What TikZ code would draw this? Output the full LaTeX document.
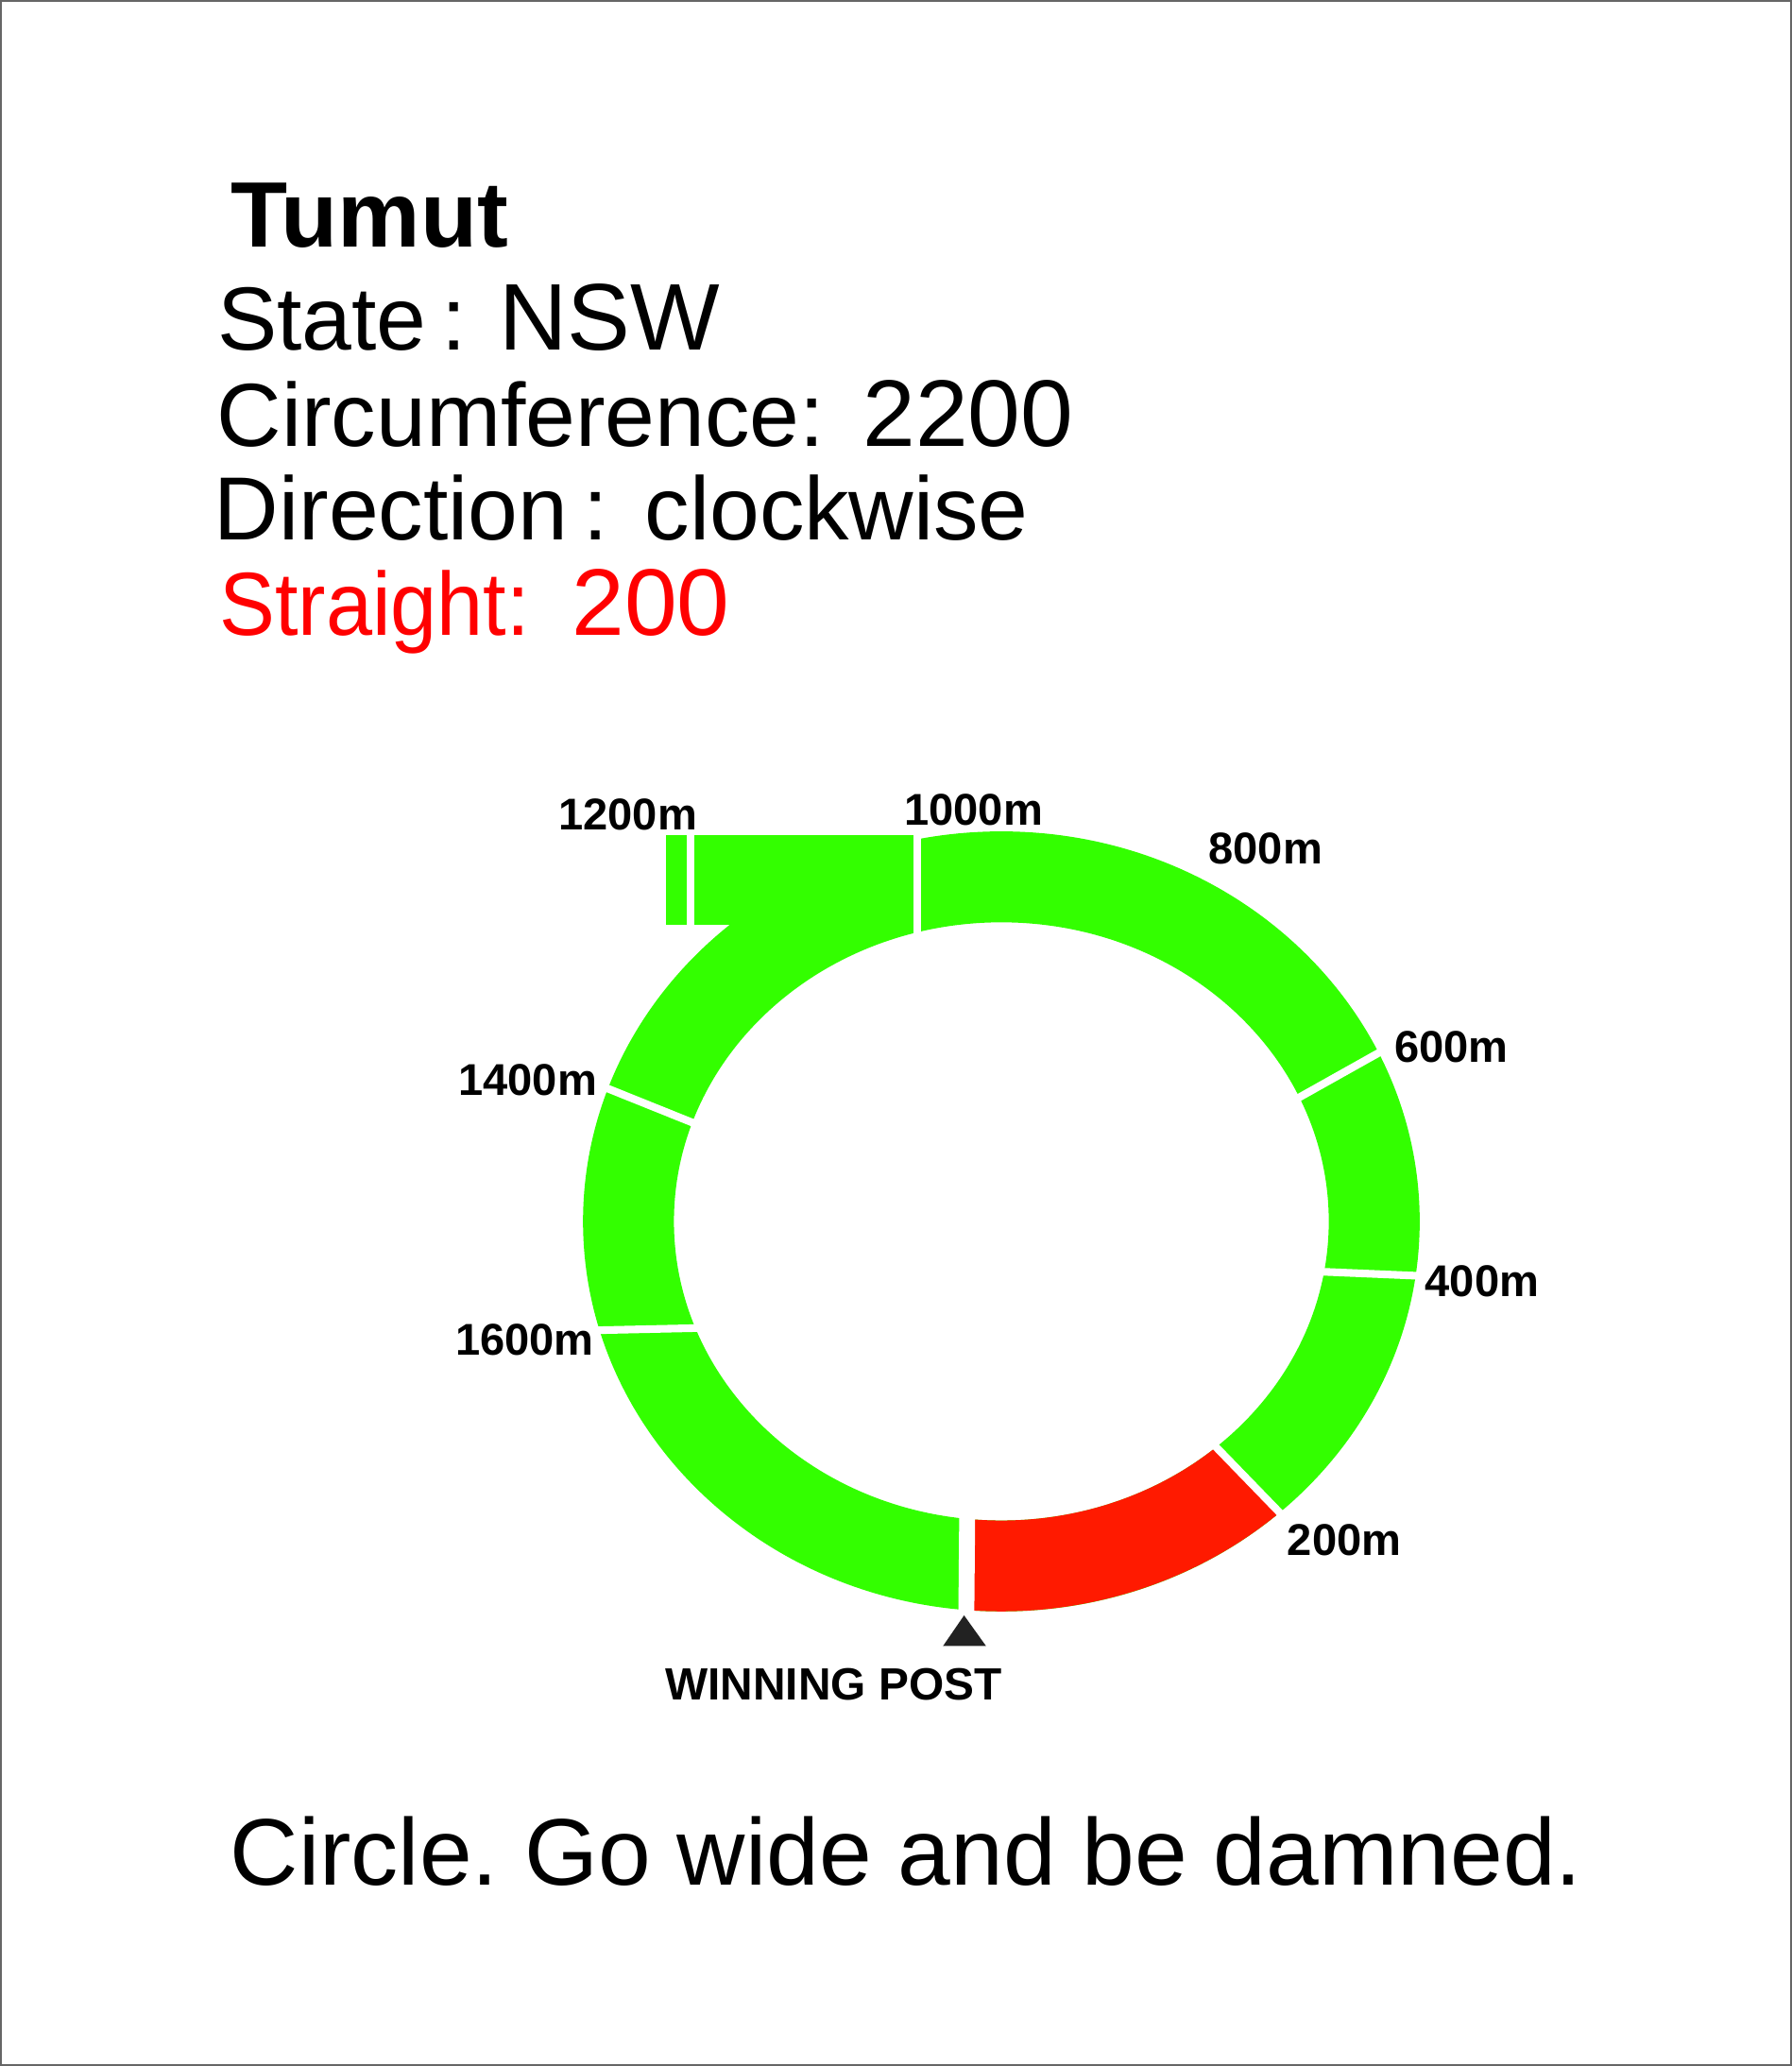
\documentclass[tikz,border=0pt]{standalone}
\usepackage{fontspec}
\setmainfont{Liberation Sans}
\newfontfamily\narrowsans[FakeStretch=0.93]{Liberation Sans}
\usepackage{xcolor}
\usetikzlibrary{calc}
\definecolor{turf}{HTML}{33FF00}
\definecolor{runin}{HTML}{FF1A00}
\definecolor{postmark}{HTML}{222222}
\frenchspacing

\begin{document}
\begin{tikzpicture}[x=0.013949cm, y=0.013949cm]
\tikzset{
  info/.style={anchor=base west,inner sep=0pt,font=\fontsize{27}{32}\selectfont},
  val/.style={anchor=base west,inner sep=0pt,font=\fontsize{28.5}{34}\selectfont},
  dist/.style={anchor=base east,inner sep=0pt,font=\fontsize{13.4}{16}\selectfont\bfseries},
  divider/.style={white,line width=2.3pt,shorten <=-3pt,shorten >=-3pt},
  border/.style={draw=black!60,line width=0.8pt}
}
\useasboundingbox (0,0) rectangle (1360,1568);
\draw[border] (0.6,0.6) rectangle (1359.4,1567.4);
% ---- heading
\node[info,font=\fontsize{28}{34}\selectfont\bfseries] (name) at (175,1380.2) {Tumut};
\node[info] (statelbl) at (164.5,1302.2) {State\,:};
\node[val]  (stateval) at (378.3,1302.2) {NSW};
\node[info] (circlbl)  at (164.2,1228.9) {Circumference:};
\node[val]  (circval)  at (654.4,1228.9) {2200};
\node[info] (dirlbl)   at (162.2,1158.1) {Direction\,:};
\node[info] (dirval)   at (489,1158.1)   {clockwise};
\node[info,text=red,font=\fontsize{27}{32}\narrowsans] (strlbl) at (166,1086) {Straight:};
\node[val,text=red]  (strval) at (433.5,1086) {200};
% ---- track
\coordinate (c) at (760,641);
\fill[turf,even odd rule] (c) ellipse[x radius=317.5,y radius=296] (c) ellipse[x radius=248.5,y radius=227];
\fill[turf] (505.4,866) rectangle (697,934);
\fill[runin] ($(c)+(265.2:317.5 and 296)$) arc[start angle=265.2,end angle=311.7,x radius=317.5,y radius=296]
  -- ($(c)+(311:248.5 and 227)$) arc[start angle=311,end angle=264,x radius=248.5,y radius=227] -- cycle;
% ---- dividers (outer angle / inner angle)
\foreach \ao/\ai in {311.7/311, 352/350.3, 25.6/24.5, 160.1/160.7, 196.2/200.9}{
  \draw[divider] ($(c)+(\ai:248.5 and 227)$) -- ($(c)+(\ao:317.5 and 296)$);
}
\draw[divider,line width=4.8pt] ($(c)+(264:248.5 and 227)$) -- ($(c)+(265.2:317.5 and 296)$);
\draw[divider] (696,855) -- (696,945);
\draw[divider,line width=2.1pt] (524,860) -- (524,945);
% ---- winning post
\coordinate (wp) at (731.7,342);
\coordinate (wpl) at (715.7,318.7);
\coordinate (wpr) at (748.4,318.7);
\fill[postmark] (wp) -- (wpl) -- (wpr) -- cycle;
\node[anchor=base,inner sep=0pt,font=\fontsize{13.6}{16}\selectfont\bfseries] (post) at (632.7,277.6) {WINNING POST};
% ---- distance marks
\node[dist] (m1200) at (529.6,938.5) {1200m};
\node[dist] (m1000) at (792,942)     {1000m};
\node[dist] (m800)  at (1004.3,912.5) {800m};
\node[dist] (m600)  at (1145.2,761.5) {600m};
\node[dist] (m400)  at (1168.5,584)  {400m};
\node[dist] (m200)  at (1064,387.5)  {200m};
\node[dist] (m1400) at (453.6,736.4) {1400m};
\node[dist] (m1600) at (451.3,539.2) {1600m};
% ---- comment
\node[anchor=base west,inner sep=0pt,font=\fontsize{28.5}{34}\selectfont] (note) at (174.4,137.5) {Circle. Go wide and be damned.};
\end{tikzpicture}
\end{document}
